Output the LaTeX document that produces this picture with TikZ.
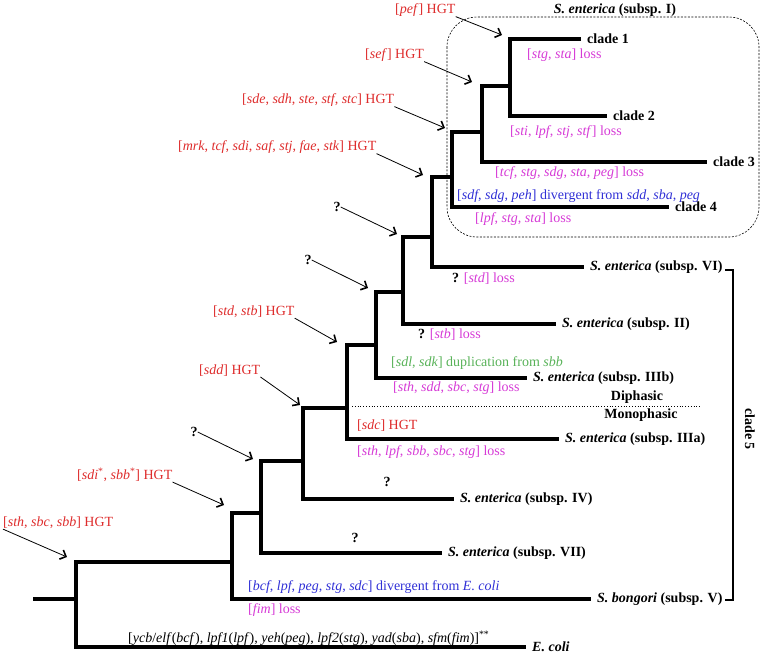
\documentclass[tikz,border=0pt]{standalone}
\usepackage{fontspec}
\setmainfont{Liberation Serif}
\usetikzlibrary{arrows.meta}
\definecolor{hgtred}{RGB}{222,44,44}
\definecolor{lossmag}{RGB}{214,58,214}
\definecolor{divblue}{RGB}{48,48,214}
\definecolor{dupgreen}{RGB}{88,178,88}

\begin{document}
\begin{tikzpicture}[x=1pt, y=-1pt, font=\fontsize{14}{16}\selectfont,
	branch/.style={line width=3.6pt},
	leaf/.style={anchor=west, inner xsep=6pt, inner ysep=0pt, font=\fontsize{14}{16}\selectfont\bfseries},
	note/.style={anchor=west, inner sep=0pt},
	gain/.style={note, text=hgtred},
	loss/.style={note, text=lossmag},
	diverge/.style={note, text=divblue},
	dupl/.style={note, text=dupgreen},
	ask/.style={inner sep=0pt, font=\fontsize{14}{16}\selectfont\bfseries},
	pointer/.style={line width=0.8pt, -{Straight Barb[length=5pt, width=10pt, line width=1.6pt]}}]
	\useasboundingbox (0,0) rectangle (764,658);

	\draw[dashed, dash pattern=on 2pt off 1.5pt, line width=0.6pt, rounded corners=30pt] (447,17) rectangle (759,237);
	\node[leaf, anchor=center, inner xsep=0pt] (subI) at (615,10) {\textit{S. enterica} (subsp. I)};

	\coordinate (stub) at (33,599);
	\coordinate (r)   at (76,599);
	\coordinate (n1)  at (232,562);
	\coordinate (n2)  at (261,513);
	\coordinate (n3)  at (303,461);
	\coordinate (n4)  at (347,408);
	\coordinate (n5)  at (376,345);
	\coordinate (n6)  at (403,292);
	\coordinate (n7)  at (432,237);
	\coordinate (n8)  at (452,177);
	\coordinate (n9)  at (482,132);
	\coordinate (n10) at (510,86);

	\node[leaf] (c1)   at (581,39)  {clade 1};
	\node[leaf] (c2)   at (607,116) {clade 2};
	\node[leaf] (c3)   at (707,162) {clade 3};
	\node[leaf] (c4)   at (669,207) {clade 4};
	\node[leaf] (vi)   at (584,267) {\textit{S. enterica} (subsp. VI)};
	\node[leaf] (ii)   at (556,324) {\textit{S. enterica} (subsp. II)};
	\node[leaf] (iiib) at (527,378) {\textit{S. enterica} (subsp. IIIb)};
	\node[leaf] (iiia) at (559,439) {\textit{S. enterica} (subsp. IIIa)};
	\node[leaf] (iv)   at (454,499) {\textit{S. enterica} (subsp. IV)};
	\node[leaf] (vii)  at (442,553) {\textit{S. enterica} (subsp. VII)};
	\node[leaf] (v)    at (591,599) {\textit{S. bongori} (subsp. V)};
	\node[leaf] (eco)  at (526,647) {\textit{E. coli}};

	\draw[branch] (stub) -- (r);
	\draw[branch] (n1) -| (r) |- (eco);
	\draw[branch] (n2) -| (n1) |- (v);
	\draw[branch] (n3) -| (n2) |- (vii);
	\draw[branch] (n4) -| (n3) |- (iv);
	\draw[branch] (n5) -| (n4) |- (iiia);
	\draw[branch] (n6) -| (n5) |- (iiib);
	\draw[branch] (n7) -| (n6) |- (ii);
	\draw[branch] (n8) -| (n7) |- (vi);
	\draw[branch] (n9) -| (n8) |- (c4);
	\draw[branch] (n10) -| (n9) |- (c3);
	\draw[branch] (c1) -| (n10) |- (c2);

	\node[gain] (pef) at (395,10)  {[\textit{pef}] HGT};
	\node[gain] (sef) at (365,55)  {[\textit{sef}] HGT};
	\node[gain] (sde) at (242,100) {[\textit{sde}, \textit{sdh}, \textit{ste}, \textit{stf}, \textit{stc}] HGT};
	\node[gain] (mrk) at (178,147) {[\textit{mrk}, \textit{tcf}, \textit{sdi}, \textit{saf}, \textit{stj}, \textit{fae}, \textit{stk}] HGT};
	\node[ask]  (q1)  at (337,207) {?};
	\node[ask]  (q2)  at (308,260) {?};
	\node[gain] (std) at (213,312) {[\textit{std}, \textit{stb}] HGT};
	\node[gain] (sdd) at (199,371) {[\textit{sdd}] HGT};
	\node[ask]  (q3)  at (194,432) {?};
	\node[gain] (sdi) at (77,475)  {[\textit{sdi}\textsuperscript{*}, \textit{sbb}\textsuperscript{*}] HGT};
	\node[gain] (sth) at (3,523)   {[\textit{sth}, \textit{sbc}, \textit{sbb}] HGT};

	\coordinate (t10) at (502,35);
	\coordinate (t9)  at (472,82);
	\coordinate (t8)  at (445,128);
	\coordinate (t7)  at (423,175);
	\coordinate (t6)  at (397,234);
	\coordinate (t5)  at (368,288);
	\coordinate (t4)  at (337,342);
	\coordinate (t3)  at (300,405);
	\coordinate (t2)  at (253,459);
	\coordinate (t1)  at (224,505);
	\coordinate (t0)  at (67,557);

	\draw[pointer] (pef.south east) -- (t10);
	\draw[pointer] (sef.south east) -- (t9);
	\draw[pointer] (sde.south east) -- (t8);
	\draw[pointer] (mrk.south east) -- (t7);
	\draw[pointer] (q1.east) -- (t6);
	\draw[pointer] (q2.east) -- (t5);
	\draw[pointer] (std.south east) -- (t4);
	\draw[pointer] (sdd.south east) -- (t3);
	\draw[pointer] (q3.east) -- (t2);
	\draw[pointer] (sdi.south east) -- (t1);
	\draw[pointer] (sth.south west) -- (t0);

	\node[loss] (l1) at (527,55)  {[\textit{stg}, \textit{sta}] loss};
	\node[loss] (l2) at (510,132) {[\textit{sti}, \textit{lpf}, \textit{stj}, \textit{stf}] loss};
	\node[loss] (l3) at (495,173) {[\textit{tcf}, \textit{stg}, \textit{sdg}, \textit{sta}, \textit{peg}] loss};
	\node[diverge] (d1) at (457,196) {[\textit{sdf}, \textit{sdg}, \textit{peh}] divergent from \textit{sdd}, \textit{sba}, \textit{peg}};
	\node[loss] (l4) at (475,219) {[\textit{lpf}, \textit{stg}, \textit{sta}] loss};
	\node[loss] (l5) at (452,279) {\textcolor{black}{\bfseries ?} [\textit{std}] loss};
	\node[loss] (l6) at (418,335) {\textcolor{black}{\bfseries ?} [\textit{stb}] loss};
	\node[dupl] (g1) at (391,363) {[\textit{sdl}, \textit{sdk}] duplication from \textit{sbb}};
	\node[loss] (l7) at (393,388) {[\textit{sth}, \textit{sdd}, \textit{sbc}, \textit{stg}] loss};
	\node[ask]  (dip)  at (637,397) {Diphasic};
	\draw[dotted, line width=0.8pt] (352,406) -- (700,406);
	\node[ask]  (mono) at (641,415) {Monophasic};
	\node[gain] (sdc) at (357,426) {[\textit{sdc}] HGT};
	\node[loss] (l8) at (357,452) {[\textit{sth}, \textit{lpf}, \textit{sbb}, \textit{sbc}, \textit{stg}] loss};
	\node[ask]  (q4) at (387,482) {?};
	\node[ask]  (q5) at (355,538) {?};
	\node[diverge] (d2) at (248,587) {[\textit{bcf}, \textit{lpf}, \textit{peg}, \textit{stg}, \textit{sdc}] divergent from \textit{E. coli}};
	\node[loss] (l9) at (248,610) {[\textit{fim}] loss};
	\node[note] (orth) at (128,638) {[\textit{ycb}/\textit{elf}(\textit{bcf}), \textit{lpf1}(\textit{lpf}), \textit{yeh}(\textit{peg}), \textit{lpf2}(\textit{stg}), \textit{yad}(\textit{sba}), \textit{sfm}(\textit{fim})]\textsuperscript{**}};

	\draw[line width=2.6pt] (725,270) -| (733,600) -- (725,600);
	\node[ask, rotate=-90] (c5) at (750,429) {clade 5};
\end{tikzpicture}
\end{document}
